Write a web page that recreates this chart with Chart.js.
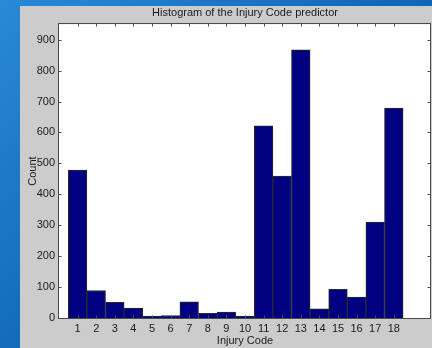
<!DOCTYPE html>
<html>
<head>
<meta charset="utf-8">
<title>Histogram of the Injury Code predictor</title>
<script src="https://cdn.jsdelivr.net/npm/chart.js@4.4.1/dist/chart.umd.min.js"></script>
<style>
    html, body { margin: 0; padding: 0; width: 432px; height: 348px; overflow: hidden; }
    body { background: linear-gradient(135deg, #2a89d6 0%, #0d66b6 55%, #0a59a5 100%); }
    #figure { position: absolute; left: 20px; top: 6px; width: 412px; height: 342px; background: #cccccc; }
    canvas { display: block; }
</style>
</head>
<body>
<div id="figure"><canvas id="chartCanvasId" width="412" height="342"></canvas></div>
<script>
"use strict";

// histogram data
const injuryCodes = [1, 2, 3, 4, 5, 6, 7, 8, 9, 10, 11, 12, 13, 14, 15, 16, 17, 18];
const codeCounts = [478, 89, 51, 32, 6, 8, 52, 15, 19, 6, 621, 459, 867, 30, 93, 68, 310, 679];
const countTicks = [0, 100, 200, 300, 400, 500, 600, 700, 800, 900];
const xLimits = [0, 20];
const yLimits = [0, 950];

const fontFamily = "'Liberation Sans', Arial, sans-serif";
const textColor = "#1a1a1a";

// MATLAB style box: white plot area, frame and ticks pointing inward
const axesBox = {
    id: "axesBox",
    afterLayout(chart) {
        // center the title over the plot area, not the whole canvas
        const t = chart.titleBlock;
        if (t) {
            t.left = chart.chartArea.left;
            t.right = chart.chartArea.right;
            t.width = t.right - t.left;
        }
    },
    beforeDraw(chart) {
        const { ctx, chartArea: a } = chart;
        ctx.save();
        ctx.fillStyle = "#ffffff";
        ctx.fillRect(a.left, a.top, a.right - a.left, a.bottom - a.top);
        ctx.restore();
    },
    afterDraw(chart) {
        const { ctx, chartArea: a, scales } = chart;
        const left = Math.round(a.left) - 0.5;
        const right = Math.round(a.right) - 0.5;
        const top = Math.round(a.top) - 0.5;
        const bottom = Math.round(a.bottom) + 0.5;
        const len = 3;
        ctx.save();
        ctx.strokeStyle = "#4a4a4a";
        ctx.lineWidth = 1;
        ctx.strokeRect(left, top, right - left, bottom - top);
        ctx.beginPath();
        injuryCodes.forEach(code => {
            const x = Math.round(scales.x.getPixelForValue(code)) + 0.5;
            ctx.moveTo(x, bottom);
            ctx.lineTo(x, bottom - len);
            ctx.moveTo(x, top);
            ctx.lineTo(x, top + len);
        });
        countTicks.forEach(v => {
            const y = Math.round(scales.y.getPixelForValue(v)) + 0.5;
            ctx.moveTo(left, y);
            ctx.lineTo(left + len, y);
            ctx.moveTo(right, y);
            ctx.lineTo(right - len, y);
        });
        ctx.stroke();
        ctx.restore();
    },
};

const chartCanvas = document.getElementById("chartCanvasId");
const myChart = new Chart(chartCanvas.getContext("2d"), {
    type: "bar",
    data: {
        datasets: [{
            label: "Count",
            data: injuryCodes.map((code, i) => ({ x: code, y: codeCounts[i] })),
            backgroundColor: "#000080",
            borderColor: "#2b2b2b",
            borderWidth: 1,
            barPercentage: 1,
            categoryPercentage: 1,
        }],
    },
    options: {
        responsive: false,
        animation: false,
        layout: { padding: { left: 0, right: 1, top: 0, bottom: 0 } },
        plugins: {
            legend: { display: false },
            tooltip: { enabled: false },
            title: {
                display: true,
                text: "Histogram of the Injury Code predictor",
                color: textColor,
                font: { family: fontFamily, size: 11, weight: "normal" },
                padding: { top: 0, bottom: 5 },
            },
        },
        scales: {
            x: {
                type: "linear",
                offset: false,
                min: xLimits[0],
                max: xLimits[1],
                grid: { display: false, drawTicks: false },
                border: { display: false },
                afterBuildTicks: scale => { scale.ticks = injuryCodes.map(v => ({ value: v })); },
                afterFit: scale => { scale.height = 30; },
                ticks: {
                    color: textColor,
                    font: { family: fontFamily, size: 11 },
                    padding: 4,
                    autoSkip: false,
                    maxRotation: 0,
                },
                title: {
                    display: true,
                    text: "Injury Code",
                    color: textColor,
                    font: { family: fontFamily, size: 11 },
                    padding: 0,
                },
            },
            y: {
                min: yLimits[0],
                max: yLimits[1],
                grid: { display: false, drawTicks: false },
                border: { display: false },
                afterBuildTicks: scale => { scale.ticks = countTicks.map(v => ({ value: v })); },
                afterFit: scale => { scale.width = 39; },
                ticks: {
                    color: textColor,
                    font: { family: fontFamily, size: 11 },
                    padding: 4,
                },
                title: {
                    display: true,
                    text: "Count",
                    color: textColor,
                    font: { family: fontFamily, size: 11 },
                    padding: { top: 6, bottom: 0 },
                },
            },
        },
    },
    plugins: [axesBox],
});
</script>
</body>
</html>
